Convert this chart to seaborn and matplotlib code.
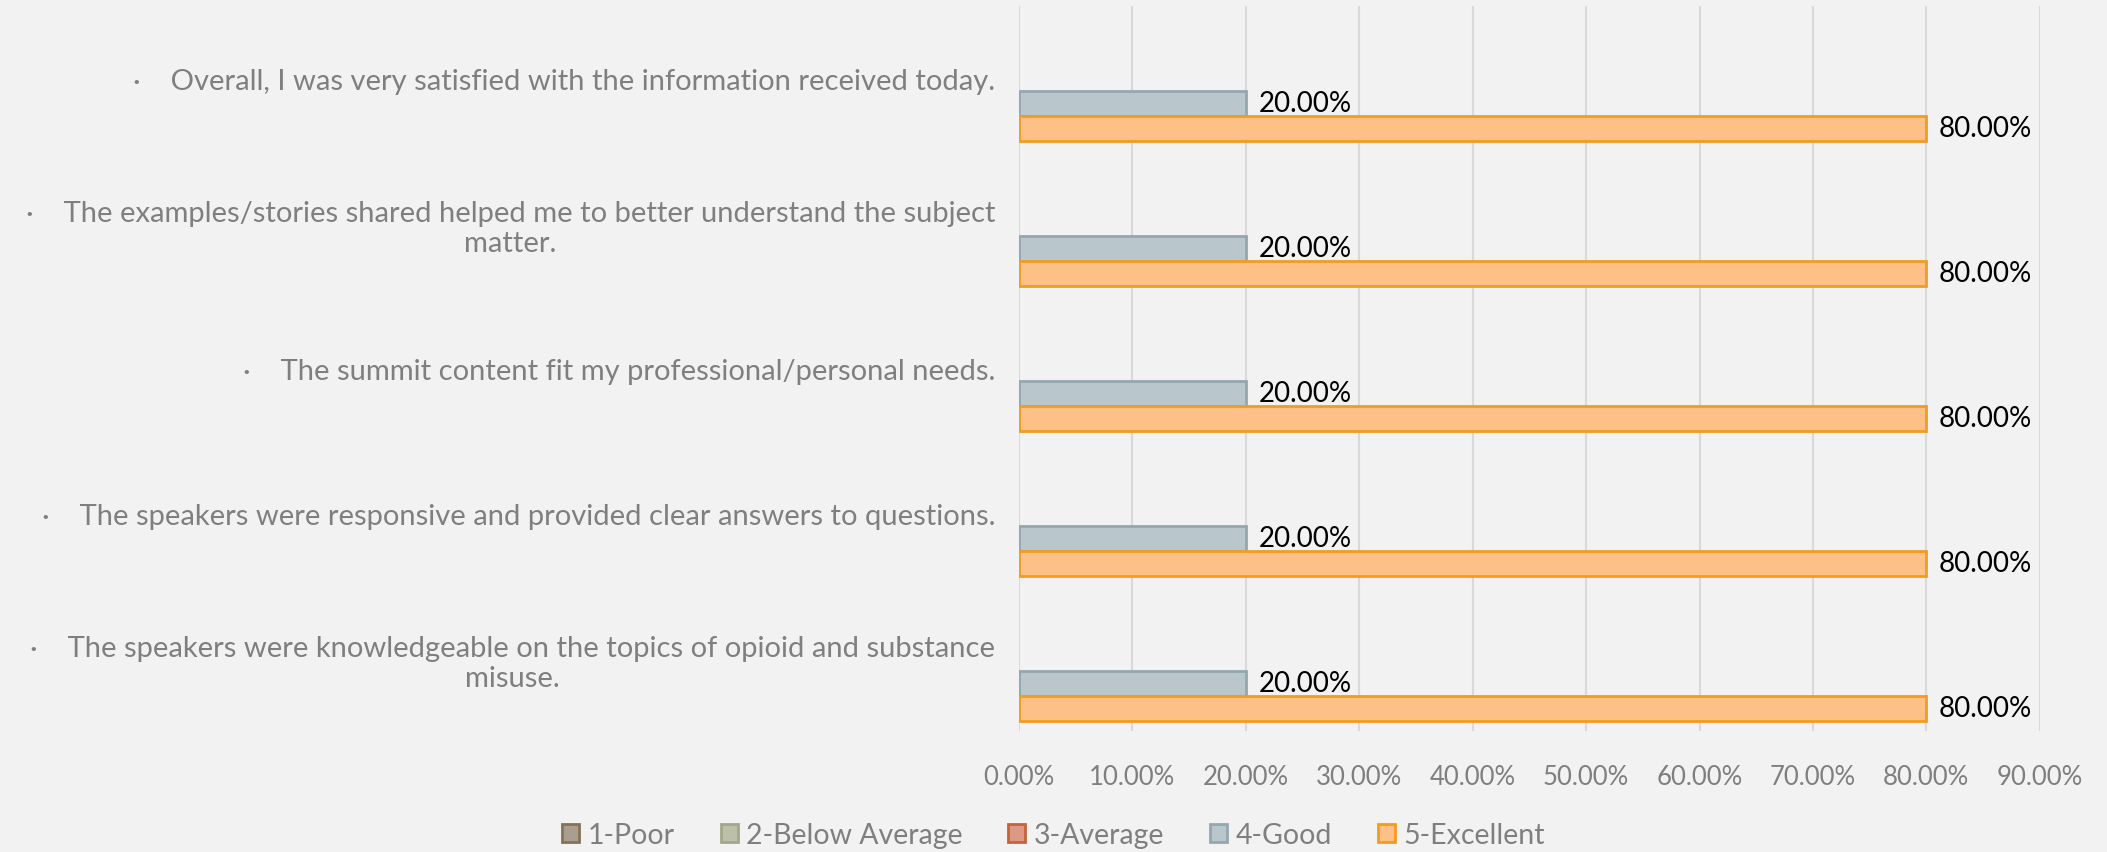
import matplotlib
matplotlib.use("Agg")
import matplotlib.pyplot as plt
from matplotlib.patches import Patch
import seaborn as sns
import pandas as pd

# survey statements (top to bottom)
questions = [
    "·    Overall, I was very satisfied with the information received today.",
    "·    The examples/stories shared helped me to better understand the subject\nmatter.",
    "·    The summit content fit my professional/personal needs.",
    "·    The speakers were responsive and provided clear answers to questions.",
    "·    The speakers were knowledgeable on the topics of opioid and substance\nmisuse.",
]
ratings = ["1-Poor", "2-Below Average", "3-Average", "4-Good", "5-Excellent"]

# share of answers per rating, one list per rating
poor = [0.0, 0.0, 0.0, 0.0, 0.0]
below_avg = [0.0, 0.0, 0.0, 0.0, 0.0]
average = [0.0, 0.0, 0.0, 0.0, 0.0]
good = [0.20, 0.20, 0.20, 0.20, 0.20]
excellent = [0.80, 0.80, 0.80, 0.80, 0.80]

face_colors = ["#ab9e8e", "#bcc0a8", "#dc9a86", "#b9c6cb", "#fdc086"]
edge_colors = ["#847456", "#a3a88a", "#c5633a", "#95a7ae", "#f39c1f"]

rows = []
for rating, vals in zip(ratings, [poor, below_avg, average, good, excellent]):
    for q, v in zip(questions, vals):
        rows.append({"question": q, "rating": rating, "value": v})
df = pd.DataFrame(rows)

sns.set_style("white")
plt.rcParams["font.family"] = ["Lato", "DejaVu Sans"]

bg = "#f2f2f2"
fig = plt.figure(figsize=(21.07, 8.53), dpi=100, facecolor=bg)
ax = fig.add_axes([0.4836, 0.142, 0.4845, 0.85])
ax.set_facecolor(bg)

sns.barplot(data=df, x="value", y="question", hue="rating", hue_order=ratings,
            order=questions, palette=face_colors, saturation=1, orient="h",
            width=0.86, legend=False, ax=ax)

# only label the non-empty bars, hide the zero ones
for cont, ec in zip(ax.containers, edge_colors):
    labels = []
    for bar in cont:
        if bar.get_width() == 0:
            bar.set_visible(False)
            labels.append("")
        else:
            bar.set_edgecolor(ec)
            bar.set_linewidth(2)
            labels.append(f"{bar.get_width() * 100:.2f}%")
    ax.bar_label(cont, labels=labels, padding=9, fontsize=20, color="black")

ax.set_xlim(0, 0.9)
ax.set_xticks([i / 10 for i in range(10)])
ax.set_xticklabels([f"{i * 10:.2f}%" for i in range(10)])
ax.xaxis.grid(True, color="#d9d9d9", linewidth=1.5)
ax.set_axisbelow(True)
for s in ax.spines.values():
    s.set_visible(False)
ax.tick_params(axis="x", colors="#d9d9d9", length=6, width=1.5, pad=18,
               labelcolor="#7f7f7f", labelsize=18.5)
ax.tick_params(axis="y", length=0, pad=17, labelcolor="#7f7f7f", labelsize=21)
for t in ax.get_yticklabels():
    t.set_multialignment("center")
ax.set_xlabel("")
ax.set_ylabel("")

handles = [Patch(facecolor=fc, edgecolor=ec, linewidth=2)
           for fc, ec in zip(face_colors, edge_colors)]
fig.legend(handles, ratings, loc="lower center", bbox_to_anchor=(0.5, -0.025),
           ncol=5, frameon=False, fontsize=20.5, labelcolor="#7f7f7f",
           handlelength=0.6, handleheight=0.6, handletextpad=0.3,
           columnspacing=1.6)

fig.savefig("out.png", dpi=100, facecolor=bg)
